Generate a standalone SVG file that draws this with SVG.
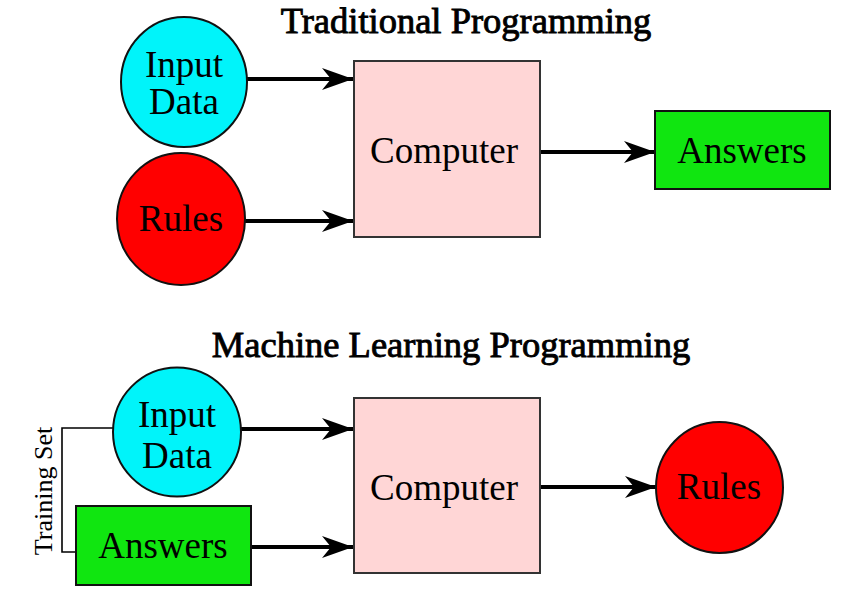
<svg xmlns="http://www.w3.org/2000/svg" width="866" height="602" viewBox="0 0 866 602">
<style>
text{font-family:"Liberation Serif","Times New Roman",serif;fill:#000;text-anchor:middle}
.t{font-size:37px}
.title{font-size:36.5px;stroke:#000;stroke-width:0.9}
.ts{font-size:26px}
.node{stroke:#111;stroke-width:2}
.cyan{fill:#00f4fa}
.red{fill:#ff0000}
.green{fill:#10e610}
.pink{fill:#ffd6d6;stroke:#333}
.conn{stroke:#000;stroke-width:4;fill:none}
.br{stroke:#000;stroke-width:1.6;fill:none}
</style>
<defs>
<marker id="ah" viewBox="-32 -12 33 24" refX="0" refY="0" markerWidth="33" markerHeight="24" markerUnits="userSpaceOnUse" orient="auto">
<path d="M0,0 L-31,-11 L-22,0 L-31,11 Z" fill="#000"/>
</marker>
</defs>
<rect width="866" height="602" fill="#fff"/>
<text class="title" x="466" y="33">Traditional Programming</text>
<text class="title" x="451" y="357">Machine Learning Programming</text>

<g id="connectors">
<line class="conn" x1="247" y1="79" x2="353" y2="79" marker-end="url(#ah)"/>
<line class="conn" x1="245" y1="221" x2="353" y2="221" marker-end="url(#ah)"/>
<line class="conn" x1="540" y1="152" x2="655" y2="152" marker-end="url(#ah)"/>
<line class="conn" x1="241" y1="429" x2="353" y2="429" marker-end="url(#ah)"/>
<line class="conn" x1="251" y1="547" x2="353" y2="547" marker-end="url(#ah)"/>
<line class="conn" x1="540" y1="487" x2="656" y2="487" marker-end="url(#ah)"/>
<polyline class="br" points="113,428 62,428 62,552 76,552"/>
</g>

<g id="t-input">
<ellipse class="node cyan" cx="184" cy="82" rx="63" ry="65"/>
<text class="t" x="184" y="77">Input</text>
<text class="t" x="184" y="114">Data</text>
</g>
<g id="t-rules">
<ellipse class="node red" cx="181" cy="219" rx="64" ry="66"/>
<text class="t" x="181" y="231">Rules</text>
</g>
<g id="t-computer">
<rect class="node pink" x="354" y="61" width="186" height="176"/>
<text class="t" x="444" y="163">Computer</text>
</g>
<g id="t-answers">
<rect class="node green" x="655" y="111" width="175" height="78"/>
<text class="t" x="742" y="163">Answers</text>
</g>

<g id="m-input">
<ellipse class="node cyan" cx="177" cy="432" rx="64" ry="64.5"/>
<text class="t" x="177" y="427">Input</text>
<text class="t" x="177" y="468">Data</text>
</g>
<g id="m-answers">
<rect class="node green" x="76" y="506" width="175" height="79"/>
<text class="t" x="163" y="558">Answers</text>
</g>
<g id="m-computer">
<rect class="node pink" x="354" y="398" width="186" height="175"/>
<text class="t" x="444" y="500">Computer</text>
</g>
<g id="m-rules">
<ellipse class="node red" cx="719.5" cy="487.5" rx="63.5" ry="65.5"/>
<text class="t" x="719" y="499">Rules</text>
</g>
<g id="training-set">
<text class="ts" transform="translate(52,491) rotate(-90)" x="0" y="0">Training Set</text>
</g>
</svg>
